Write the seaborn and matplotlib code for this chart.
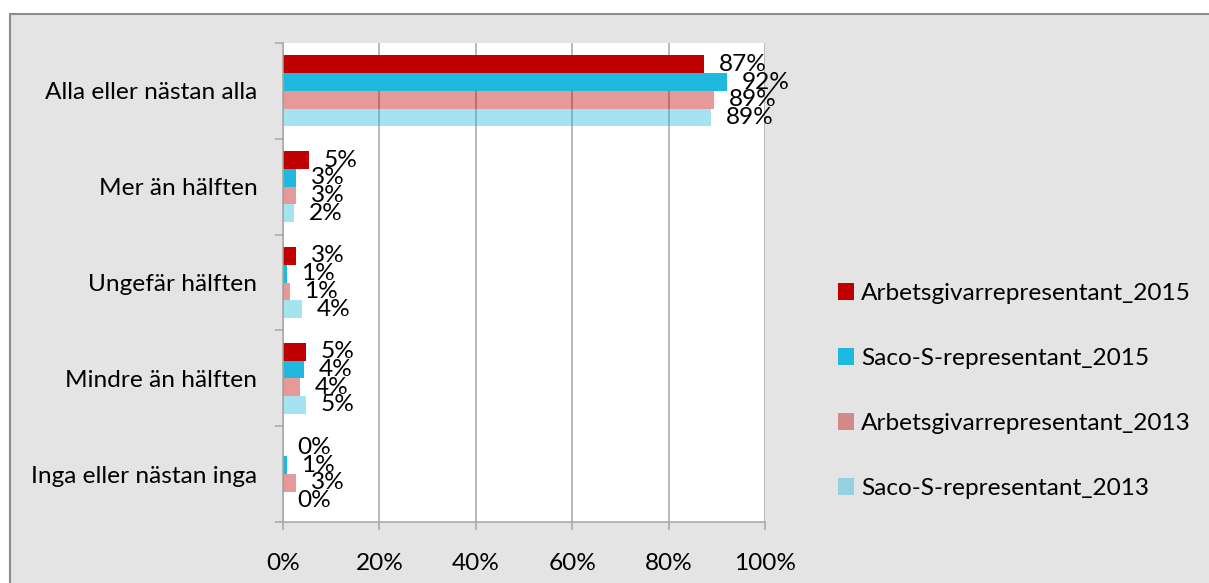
import matplotlib
matplotlib.use("Agg")
import matplotlib.pyplot as plt
import seaborn as sns
import pandas as pd
from matplotlib.patches import Rectangle, Patch
from matplotlib.ticker import FixedLocator, FuncFormatter

categories = ["Alla eller nästan alla", "Mer än hälften", "Ungefär hälften",
              "Mindre än hälften", "Inga eller nästan inga"]
series = ["Arbetsgivarrepresentant_2015", "Saco-S-representant_2015",
          "Arbetsgivarrepresentant_2013", "Saco-S-representant_2013"]
arb_2015 = [87.4, 5.4, 2.8, 4.8, 0.0]
saco_2015 = [92.2, 2.8, 0.8, 4.3, 0.8]
arb_2013 = [89.4, 2.8, 1.4, 3.6, 2.8]
saco_2013 = [88.8, 2.3, 4.0, 4.8, 0.0]
x_ticks = [0, 20, 40, 60, 80, 100]

RED = "#C00000"
BLUE = "#1FB9DE"
colors = [RED, BLUE, RED, BLUE]
alphas = [1.0, 1.0, 0.4, 0.4]
GRID = "#A6A6A6"
FS = 17.6

sns.set_theme(style="white")
plt.rcParams["font.family"] = ["Lato", "DejaVu Sans"]
plt.rcParams["text.color"] = "black"

rows = []
for s, vals in zip(series, [arb_2015, saco_2015, arb_2013, saco_2013]):
    for c, v in zip(categories, vals):
        rows.append({"category": c, "series": s, "value": v})
df = pd.DataFrame(rows)

W, H = 1209, 583
fig = plt.figure(figsize=(W / 100, H / 100), dpi=100, facecolor="white")
fig.patches.append(Rectangle((10 / W, -0.02), 1.2, (H - 14) / H + 0.02,
                             transform=fig.transFigure, facecolor="#e4e4e4",
                             edgecolor="#8c8c8c", linewidth=1.5, zorder=-10))
ax = fig.add_axes([283 / W, 61 / H, 482 / W, 479 / H])
ax.set_facecolor("white")

sns.barplot(data=df, y="category", x="value", hue="series", order=categories,
            hue_order=series, palette=dict(zip(series, colors)), orient="h",
            width=0.74, saturation=1, linewidth=0, legend=False, ax=ax,
            errorbar=None, zorder=2)

for cont, a in zip(ax.containers, alphas):
    for bar in cont:
        bar.set_alpha(a)
    ax.bar_label(cont, labels=[f"{v:.0f}%" for v in cont.datavalues],
                 padding=10.5, fontsize=FS, color="black")

ax.set_xlim(0, 100)
ax.set_ylim(len(categories) - 0.5, -0.5)
ax.set_xticks(x_ticks)
ax.xaxis.set_major_formatter(FuncFormatter(lambda v, p: f"{v:.0f}%"))
ax.grid(axis="x", color=GRID, linewidth=1.1, zorder=0)
ax.grid(axis="y", visible=False)
ax.set_axisbelow(True)
ax.set_xlabel("")
ax.set_ylabel("")

for side in ["top", "right"]:
    ax.spines[side].set_visible(False)
for side in ["left", "bottom"]:
    ax.spines[side].set_color(GRID)
    ax.spines[side].set_linewidth(1.1)

ax.yaxis.set_minor_locator(FixedLocator([i - 0.5 for i in range(len(categories) + 1)]))
ax.tick_params(axis="y", which="major", length=0, pad=18.5, labelsize=FS, labelcolor="black")
ax.tick_params(axis="y", which="minor", left=True, length=6, width=1.1, color=GRID)
ax.tick_params(axis="x", which="major", bottom=True, length=6, width=1.1, color=GRID,
               pad=16, labelsize=FS, labelcolor="black")

handles = [Patch(facecolor=c, alpha=a, edgecolor="none") for c, a in zip(colors, alphas)]
fig.legend(handles, series, loc="center left", bbox_to_anchor=(838 / W, (H - 391) / H),
           frameon=False, fontsize=FS, handlelength=0.65, handleheight=0.65,
           handletextpad=0.3, labelspacing=1.8, borderpad=0, borderaxespad=0)

fig.savefig("out.png", dpi=100, facecolor="white")
